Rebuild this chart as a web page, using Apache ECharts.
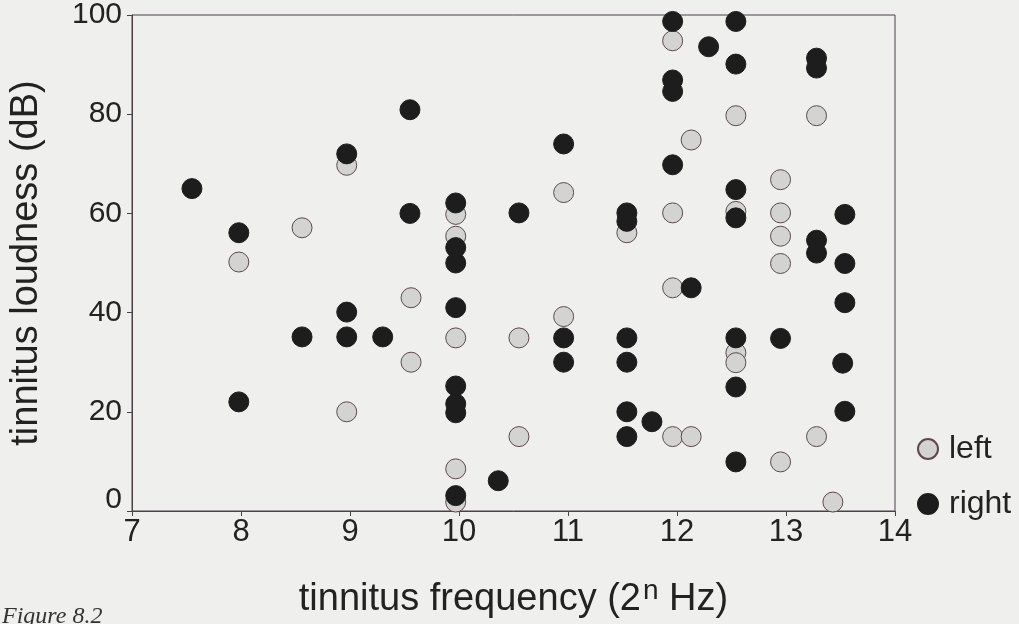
<!DOCTYPE html>
<html>
<head>
<meta charset="utf-8">
<script src="https://cdn.jsdelivr.net/npm/echarts@6/dist/echarts.min.js"></script>
<style>
  html, body { margin: 0; padding: 0; background: #efefed; }
  #main { width: 1019px; height: 624px; }
</style>
</head>
<body>
<div id="main"></div>
<script>
// tinnitus frequency (log2 Hz) and loudness (dB), left ear
var leftFreq = [7.98, 8.56, 8.97, 8.97, 9.56, 9.56, 9.97, 9.97, 9.97, 9.97, 9.97, 10.55, 10.55, 10.96, 10.96, 11.54,
  11.96, 11.96, 11.96, 11.96, 12.13, 12.13, 12.54, 12.54, 12.54, 12.54, 12.95, 12.95, 12.95, 12.95, 12.95, 13.28, 13.28, 13.43];
var leftLoud = [50.2, 57.1, 69.7, 20.0, 43.0, 30.0, 59.8, 55.4, 34.9, 8.5, 1.8, 34.9, 15.0, 64.2, 39.2, 56.1,
  94.8, 60.1, 45.0, 15.0, 74.8, 15.0, 79.7, 60.4, 31.9, 29.9, 66.8, 60.1, 55.4, 49.9, 9.9, 79.7, 15.0, 1.8];

// right ear
var rightFreq = [7.55, 7.98, 7.98, 8.56, 8.97, 8.97, 8.97, 9.30, 9.55, 9.55, 9.97, 9.97, 9.97, 9.97, 9.97, 9.97, 9.97, 9.97,
  10.36, 10.55, 10.96, 10.96, 10.96, 11.54, 11.54, 11.54, 11.54, 11.54, 11.54, 11.77, 11.96, 11.96, 11.96, 11.96,
  12.13, 12.29, 12.54, 12.54, 12.54, 12.54, 12.54, 12.54, 12.54, 12.95, 13.28, 13.28, 13.28, 13.28, 13.52, 13.54, 13.54, 13.54, 13.54];
var rightLoud = [65.0, 56.1, 22.0, 35.1, 72.0, 40.1, 35.1, 35.1, 80.9, 60.0, 62.1, 53.1, 50.0, 41.0, 25.2, 21.6, 19.8, 3.1,
  6.1, 60.1, 74.0, 34.9, 30.0, 60.1, 58.4, 34.9, 30.0, 20.0, 15.0, 18.0, 98.7, 86.9, 84.6, 69.8,
  45.0, 93.6, 98.7, 90.1, 64.8, 59.1, 34.9, 25.0, 9.9, 34.8, 91.3, 89.3, 54.6, 52.0, 29.8, 59.8, 49.9, 42.0, 20.1];

function zip(xs, ys) {
  return xs.map(function (x, i) { return [x, ys[i]]; });
}

var chart = echarts.init(document.getElementById('main'), null, { renderer: 'canvas' });
var axisColor = '#4b4048';
var textColor = '#222222';
var font = 'Liberation Sans, Arial, Helvetica, sans-serif';

var option = {
  backgroundColor: '#efefed',
  animation: false,
  textStyle: { fontFamily: font },
  grid: { left: 130, right: 124, top: 15, bottom: 112, show: true, borderColor: axisColor, borderWidth: 1 },
  legend: {
    orient: 'vertical',
    left: 912,
    top: 428,
    itemWidth: 20,
    itemHeight: 20,
    itemGap: 23,
    icon: 'circle',
    textStyle: { fontSize: 32, color: textColor, lineHeight: 32, padding: [0, 0, 0, 6] },
    data: ['left', 'right']
  },
  xAxis: {
    type: 'value',
    min: 7,
    max: 14,
    interval: 1,
    name: '{t|tinnitus frequency (2}{sup|n}{t| Hz)}',
    nameLocation: 'middle',
    nameGap: 66,
    nameTextStyle: {
      fontSize: 38, color: textColor,
      rich: {
        sup: { fontSize: 28, color: textColor, padding: [0, 0, 18, 2] },
        t: { fontSize: 38, color: textColor }
      }
    },
    axisLine: { show: true, lineStyle: { color: axisColor, width: 1 } },
    axisTick: { show: true, length: 5, lineStyle: { color: axisColor } },
    axisLabel: { fontSize: 31, color: textColor, margin: 6 },
    splitLine: { show: false }
  },
  yAxis: {
    type: 'value',
    min: 0,
    max: 100,
    interval: 20,
    name: 'tinnitus loudness (dB)',
    nameLocation: 'middle',
    nameGap: 86,
    nameTextStyle: { fontSize: 38, color: textColor },
    axisLine: { show: true, lineStyle: { color: axisColor, width: 1 } },
    axisTick: { show: true, length: 5, lineStyle: { color: axisColor } },
    axisLabel: {
      fontSize: 30, color: textColor, margin: 10,
      formatter: function (v) { return v === 0 ? '{z|0}' : String(v); },
      rich: { z: { fontSize: 30, color: textColor, padding: [0, 0, 22, 0] } }
    },
    splitLine: { show: false }
  },
  series: [
    {
      name: 'left',
      type: 'scatter',
      symbol: 'circle',
      symbolSize: 20,
      itemStyle: { color: '#d3d3d2', borderColor: '#5a4a4e', borderWidth: 1, opacity: 1 },
      data: zip(leftFreq, leftLoud)
    },
    {
      name: 'right',
      type: 'scatter',
      symbol: 'circle',
      symbolSize: 20,
      itemStyle: { color: '#1d1d1d', borderColor: '#1d1d1d', borderWidth: 1, opacity: 1 },
      data: zip(rightFreq, rightLoud)
    }
  ],
  graphic: [{
    type: 'text',
    left: 2,
    top: 605,
    style: { text: 'Figure 8.2', font: 'italic 24px "Liberation Serif", "Times New Roman", serif', fill: '#333' }
  }]
};

chart.setOption(option);
</script>
</body>
</html>
